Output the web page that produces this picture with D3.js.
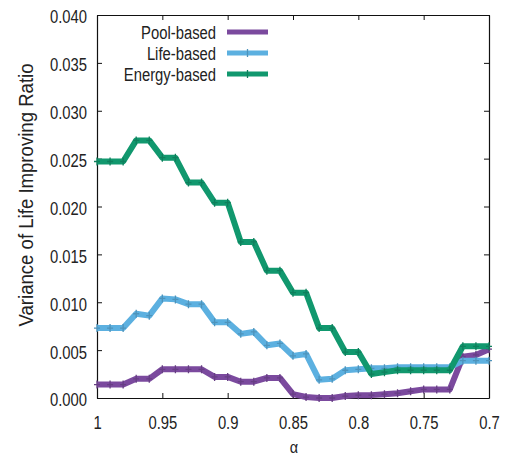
<!DOCTYPE html>
<html>
<head>
<meta charset="utf-8">
<script src="https://cdn.jsdelivr.net/npm/d3@7"></script>
<style>
  html, body { margin: 0; padding: 0; background: #fff; }
  svg { display: block; }
  text { font-family: "Liberation Sans", Arial, sans-serif; fill: #222; }
</style>
</head>
<body>
<svg id="chart" width="508" height="459"></svg>
<script>
// ---- data ----
const alphas = [1.00,0.99,0.98,0.97,0.96,0.95,0.94,0.93,0.92,0.91,0.90,0.89,0.88,0.87,0.86,0.85,
                0.84,0.83,0.82,0.81,0.80,0.79,0.78,0.77,0.76,0.75,0.74,0.73,0.72,0.71,0.70];
const poolBased = [0.0014,0.0014,0.0014,0.0020,0.0020,0.0030,0.0030,0.0030,0.0030,0.0022,0.0022,
                   0.0017,0.0017,0.0021,0.0021,0.0004,0.0001,0.0000,0.0000,0.0002,0.0003,0.0003,
                   0.0004,0.0005,0.0007,0.0009,0.0009,0.0009,0.0043,0.0045,0.0051];
const lifeBased = [0.0073,0.0073,0.0073,0.0088,0.0086,0.0104,0.0103,0.0098,0.0098,0.0079,0.0079,
                   0.0067,0.0069,0.0055,0.0057,0.0044,0.0046,0.0019,0.0020,0.0029,0.0030,0.0031,
                   0.0031,0.0032,0.0032,0.0032,0.0032,0.0032,0.0039,0.0039,0.0039];
const energyBased = [0.0247,0.0247,0.0247,0.0269,0.0269,0.0251,0.0251,0.0225,0.0225,0.0204,0.0204,
                     0.0163,0.0163,0.0133,0.0133,0.0110,0.0110,0.0073,0.0073,0.0048,0.0048,0.0025,
                     0.0027,0.0029,0.0029,0.0029,0.0029,0.0029,0.0054,0.0054,0.0054];
const seriesNames = ["Pool-based","Life-based","Energy-based"];
const seriesColors = ["#7b4a9e","#5cb0e0","#11986e"];
const xTicks = [1,0.95,0.9,0.85,0.8,0.75,0.7];
const yTicks = [0,0.005,0.010,0.015,0.020,0.025,0.030,0.035,0.040];
const xLabel = "α";
const yLabel = "Variance of Life Improving Ratio";

// ---- layout ----
const L = 97, R = 489, T = 15, B = 398;
const SX = 0.78, FS = 19;
const svg = d3.select("#chart");
const x = d3.scaleLinear().domain([1, 0.7]).range([L, R]);
const y = d3.scaleLinear().domain([0, 0.04]).range([B, T]);

// horizontally condensed text (the reference glyphs are narrow and tall)
function narrow(sel, sx) {
  sel.each(function() {
    const t = d3.select(this);
    const x0 = +t.attr("x") || 0;
    t.attr("x", 0).attr("transform", `translate(${x0},0) scale(${sx},1)`);
  });
}

const series = [poolBased, lifeBased, energyBased].map((vals, i) => ({
  name: seriesNames[i], color: seriesColors[i],
  values: vals.map((v, j) => ({a: alphas[j], v}))
}));

// axes
const fmtX = d3.format("");
const gx = svg.append("g").attr("transform", `translate(0,${B})`)
  .call(d3.axisBottom(x).tickValues(xTicks).tickFormat(d => fmtX(d)).tickSizeInner(-5).tickSizeOuter(0).tickPadding(18));
const gy = svg.append("g").attr("transform", `translate(${L},0)`)
  .call(d3.axisLeft(y).tickValues(yTicks).tickFormat(d3.format(".3f")).tickSizeInner(-5).tickSizeOuter(0).tickPadding(10));
const gt = svg.append("g").attr("transform", `translate(0,${T})`)
  .call(d3.axisTop(x).tickValues(xTicks).tickFormat("").tickSizeInner(-5).tickSizeOuter(0));
const gr = svg.append("g").attr("transform", `translate(${R},0)`)
  .call(d3.axisRight(y).tickValues(yTicks).tickFormat("").tickSizeInner(-5).tickSizeOuter(0));
[gx, gy, gt, gr].forEach(g => {
  g.selectAll("path.domain").attr("stroke", "#111").attr("stroke-width", 1.2);
  g.selectAll(".tick line").attr("stroke", "#111").attr("stroke-width", 1);
  g.selectAll(".tick text").attr("font-size", FS).attr("fill", "#2a2a2a")
    .attr("font-family", '"Liberation Sans", Arial, sans-serif');
});
gy.selectAll(".tick text").attr("dy", "0.42em");
narrow(gx.selectAll(".tick text"), SX);
narrow(gy.selectAll(".tick text"), SX);

// lines
const line = d3.line().x(d => x(d.a)).y(d => y(d.v));
const gLines = svg.append("g");
series.forEach(s => {
  gLines.append("path").datum(s.values)
    .attr("d", line).attr("fill", "none")
    .attr("stroke", s.color).attr("stroke-width", 6)
    .attr("stroke-linejoin", "round").attr("stroke-linecap", "butt");
  gLines.selectAll(null).data(s.values).enter().append("path")
    .attr("d", d => `M${x(d.a)-3},${y(d.v)}h6M${x(d.a)},${y(d.v)-4}v8`)
    .attr("stroke", d3.color(s.color).darker(0.5)).attr("stroke-width", 1.3).attr("fill", "none");
});

// legend
const legY = [32, 53, 74];
series.forEach((s, i) => {
  const t = svg.append("text").attr("x", 216).attr("y", legY[i]).attr("dy", "0.36em")
    .attr("text-anchor", "end").attr("font-size", FS).attr("fill", "#2a2a2a").text(s.name);
  narrow(t, SX);
  svg.append("line").attr("x1", 227).attr("x2", 268).attr("y1", legY[i]).attr("y2", legY[i])
    .attr("stroke", s.color).attr("stroke-width", 5);
  if (i > 0) svg.append("path").attr("d", `M247.5,${legY[i]-4}v8`)
    .attr("stroke", d3.color(s.color).darker(0.5)).attr("stroke-width", 1.3);
});

// axis labels
const xl = svg.append("text").attr("x", 294).attr("y", 453).attr("text-anchor", "middle")
  .attr("font-size", 17).attr("fill", "#2a2a2a").text(xLabel);
narrow(xl, 0.85);
svg.append("text").attr("transform", `translate(33,195) rotate(-90) scale(0.93,1)`)
  .attr("text-anchor", "middle").attr("font-size", 20).attr("fill", "#2a2a2a").text(yLabel);
</script>
</body>
</html>
